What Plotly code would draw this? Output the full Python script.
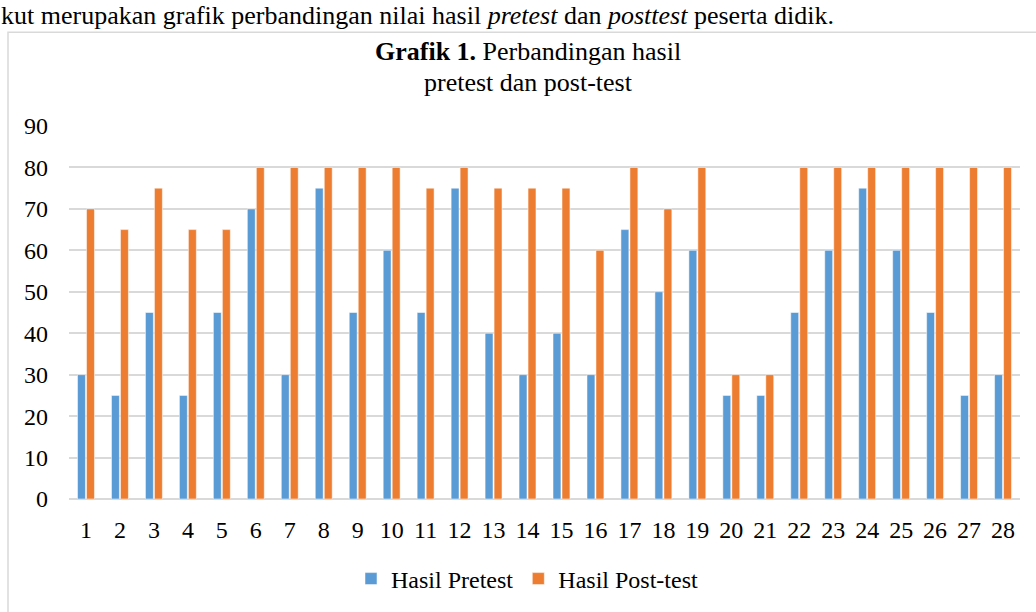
import plotly.graph_objects as go

categories = [str(i) for i in range(1, 29)]
pretest = [30, 25, 45, 25, 45, 70, 30, 75, 45, 60, 45, 75, 40, 30, 40, 30, 65, 50, 60, 25, 25, 45, 60, 75, 60, 45, 25, 30]
posttest = [70, 65, 75, 65, 65, 80, 80, 80, 80, 80, 75, 80, 75, 75, 75, 60, 80, 70, 80, 30, 30, 80, 80, 80, 80, 80, 80, 80]
y_ticks = [0, 10, 20, 30, 40, 50, 60, 70, 80, 90]

FONT = "Liberation Serif, Times New Roman, serif"

fig = go.Figure()
fig.add_trace(go.Bar(x=categories, y=pretest, name="Hasil Pretest",
                     marker=dict(color="#5B9BD5", line=dict(color="white", width=0.5))))
fig.add_trace(go.Bar(x=categories, y=posttest, name="Hasil Post-test",
                     marker=dict(color="#ED7D31", line=dict(color="white", width=0.5))))

L, R, T, B = 69, 16, 126, 112
W, H = 1036, 612
pw, ph = W - L - R, H - T - B

def px(x):
    return (x - L) / pw

def py(y):
    return (H - B - y) / ph

fig.update_layout(
    width=W, height=H,
    margin=dict(l=L, r=R, t=T, b=B),
    paper_bgcolor="white", plot_bgcolor="white",
    font=dict(family=FONT, size=24, color="#000000"),
    barmode="group", bargap=0.47, bargroupgap=0.12,
    showlegend=True,
    legend=dict(orientation="h", x=px(527), xanchor="center", y=py(579), yanchor="middle",
                font=dict(family=FONT, size=24), itemwidth=30, traceorder="normal"),
    xaxis=dict(showgrid=False, showline=False, ticks="", ticklabelstandoff=14,
               tickfont=dict(family=FONT, size=24), zeroline=False),
    yaxis=dict(range=[0, 90], tickvals=y_ticks, showgrid=True, gridcolor="#D9D9D9", gridwidth=1.5,
               zeroline=True, zerolinecolor="#D9D9D9", zerolinewidth=1.5,
               ticks="", ticklabelstandoff=20, tickfont=dict(family=FONT, size=24)),
    shapes=[dict(type="rect", xref="paper", yref="paper",
                 x0=px(8), x1=px(1060), y0=py(640), y1=py(32),
                 line=dict(color="#D9D9D9", width=1.5), fillcolor="rgba(0,0,0,0)", layer="below")],
    annotations=[
        dict(xref="paper", yref="paper", x=px(528), y=py(51), xanchor="center", yanchor="middle",
             text="<b>Grafik 1.</b> Perbandingan hasil",
             showarrow=False, font=dict(family=FONT, size=26, color="#000000")),
        dict(xref="paper", yref="paper", x=px(528), y=py(82), xanchor="center", yanchor="middle",
             text="pretest dan post-test",
             showarrow=False, font=dict(family=FONT, size=26, color="#000000")),
        dict(xref="paper", yref="paper", x=px(-1), y=py(-1), xanchor="left", yanchor="top",
             text="kut merupakan grafik perbandingan nilai hasil <i>pretest</i> dan <i>posttest</i> peserta didik.",
             showarrow=False, font=dict(family=FONT, size=26, color="#000000")),
    ],
)

fig.write_html("out.html", config={"displayModeBar": False},
               post_script="document.body.style.margin='0';")
